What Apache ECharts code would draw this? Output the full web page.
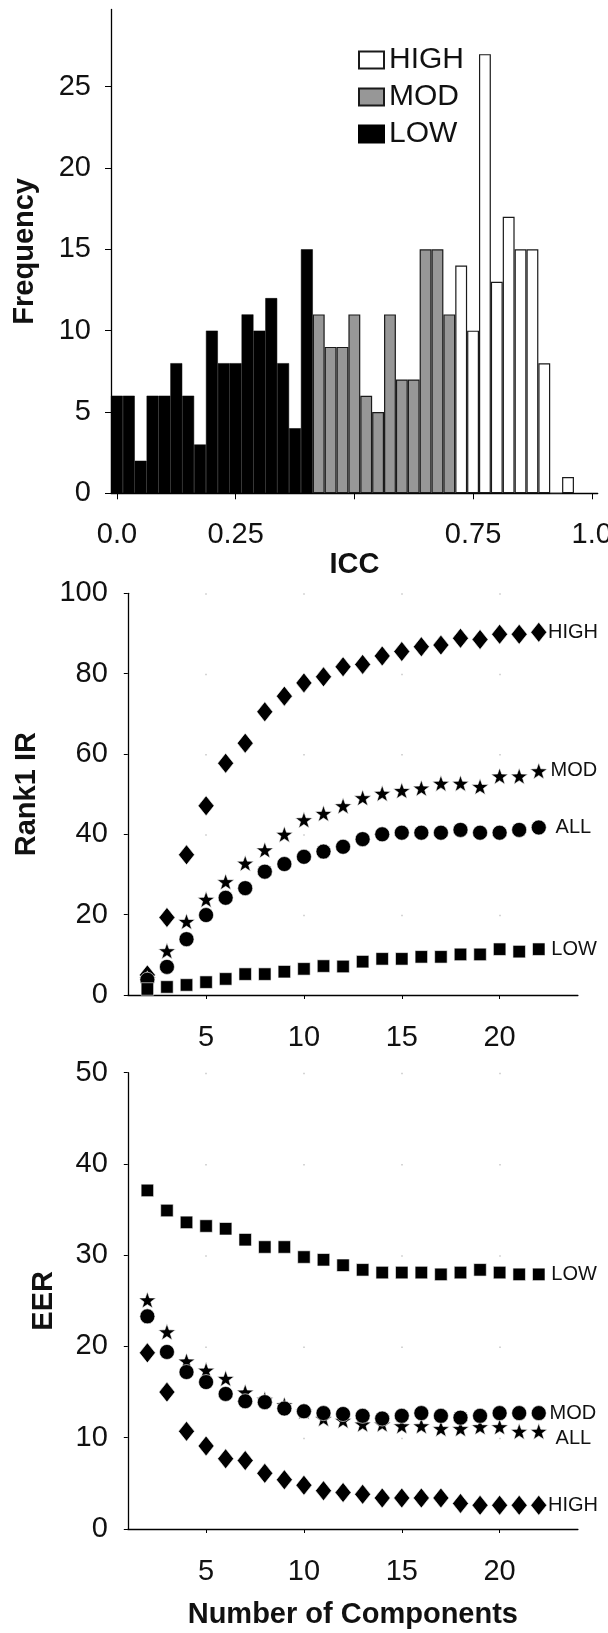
<!DOCTYPE html>
<html>
<head>
<meta charset="utf-8">
<script src="https://cdn.jsdelivr.net/npm/echarts@6/dist/echarts.min.js"></script>
<style>
  html, body { margin: 0; padding: 0; background: #ffffff; }
  #chart { width: 608px; height: 1633px; }
</style>
</head>
<body>
<div id="chart"></div>
<script>
// ---- Histogram of ICC values (bins of width 0.025, labelled by bin centre) ----
const iccBins = [
  0.000, 0.025, 0.050, 0.075, 0.100, 0.125, 0.150, 0.175, 0.200, 0.225,
  0.250, 0.275, 0.300, 0.325, 0.350, 0.375, 0.400, 0.425, 0.450, 0.475,
  0.500, 0.525, 0.550, 0.575, 0.600, 0.625, 0.650, 0.675, 0.700, 0.725,
  0.750, 0.775, 0.800, 0.825, 0.850, 0.875, 0.900, 0.925, 0.950, 0.975,
  1.000
];
const iccTickLabels = ['0.0', '0.25', '', '0.75', '1.0'];
const freqTicks = [0, 5, 10, 15, 20, 25];

// frequency per bin for each reliability group, starting at the given bin centre
const lowStart = 0.000;
const lowFreq  = [6, 6, 2, 6, 6, 8, 6, 3, 10, 8, 8, 11, 10, 12, 8, 4, 15];
const modStart = 0.425;
const modFreq  = [11, 9, 9, 11, 6, 5, 11, 7, 7, 15, 15, 11];
const highStart = 0.725;
const highFreq = [14, 10, 27, 13, 17, 15, 15, 8, 0, 1];

// ---- Rank-1 identification rate vs number of components ----
const components = [2, 3, 4, 5, 6, 7, 8, 9, 10, 11, 12, 13, 14, 15, 16, 17, 18, 19, 20, 21, 22];
const compTicks = [5, 10, 15, 20];
const irHigh = [5.0, 19.3, 34.9, 47.1, 57.7, 62.7, 70.5, 74.4, 77.7, 79.2, 81.7, 82.3, 84.4, 85.5, 86.7, 87.1, 88.8, 88.5, 89.8, 89.8, 90.3];
const irMod  = [4.0, 11.0, 18.3, 23.8, 28.2, 32.8, 36.1, 40.0, 43.6, 45.2, 47.1, 49.1, 50.2, 50.9, 51.5, 52.7, 52.7, 51.9, 54.5, 54.5, 55.8];
const irAll  = [3.8, 7.0, 13.9, 19.9, 24.2, 26.6, 30.7, 32.6, 34.4, 35.7, 36.9, 38.8, 40.0, 40.4, 40.4, 40.4, 41.1, 40.4, 40.4, 41.1, 41.7];
const irLow  = [1.5, 2.0, 2.5, 3.2, 4.0, 5.2, 5.2, 5.8, 6.5, 7.2, 7.1, 8.3, 9.0, 9.0, 9.5, 9.5, 10.1, 10.1, 11.4, 10.8, 11.4];

// ---- Equal error rate vs number of components ----
const eerLow  = [37.1, 34.9, 33.6, 33.2, 32.9, 31.7, 30.9, 30.9, 29.8, 29.5, 28.9, 28.4, 28.1, 28.1, 28.1, 27.9, 28.1, 28.4, 28.1, 27.9, 27.9];
const eerMod  = [23.3, 19.4, 17.2, 16.1, 14.8, 14.0, 13.9, 13.2, 12.9, 12.7, 12.6, 12.4, 12.1, 12.4, 12.7, 12.4, 12.2, 12.4, 12.7, 12.7, 12.7];
const eerAll  = [25.1, 21.6, 18.4, 17.4, 16.5, 15.0, 14.2, 13.6, 12.9, 12.1, 11.9, 11.5, 11.5, 11.3, 11.3, 11.0, 11.0, 11.2, 11.2, 10.7, 10.7];
const eerHigh = [19.3, 15.0, 10.7, 9.1, 7.7, 7.5, 6.1, 5.4, 4.8, 4.2, 4.0, 3.8, 3.4, 3.4, 3.4, 3.4, 2.8, 2.6, 2.6, 2.6, 2.6];

const FONT = '"Liberation Sans", Arial, sans-serif';
const INK = '#111111';
const TICK_FONT = 29, TITLE_FONT = 29, TAG_FONT = 20;
const STAR = 'path://M0,-10L2.35,-3.24L9.51,-3.09L3.8,1.24L5.88,8.09L0,4.2L-5.88,8.09L-3.8,1.24L-9.51,-3.09L-2.35,-3.24Z';

// place a group's frequencies on the full bin axis
function binSeriesData(start, freq) {
  const first = iccBins.findIndex(b => Math.abs(b - start) < 1e-9);
  return iccBins.map((b, i) => {
    const k = i - first;
    return (k >= 0 && k < freq.length) ? freq[k] : null;
  });
}

const axisLineStyle = { color: '#000', width: 1.3 };
const titleStyle = { fontSize: TITLE_FONT, fontWeight: 'bold', color: INK, fontFamily: FONT };
const tickText = { fontSize: TICK_FONT, color: INK, fontFamily: FONT };

function compXAxis(gridIndex, gapDots) {
  return {
    type: 'value', gridIndex, min: 1, max: 24,
    axisLine: { show: true, onZero: false, lineStyle: axisLineStyle },
    axisTick: { show: true, length: 4, customValues: compTicks, lineStyle: { color: '#000' } },
    axisLabel: Object.assign({ customValues: compTicks, margin: 28 }, tickText),
    splitLine: { show: true, lineStyle: { color: '#c8c8c8', width: 1.5, type: gapDots } }
  };
}

function valueYAxis(gridIndex, max, interval, name, nameGap) {
  return {
    type: 'value', gridIndex, min: 0, max, interval,
    name, nameLocation: 'middle', nameGap, nameRotate: 90,
    nameTextStyle: titleStyle,
    axisLine: { show: true, lineStyle: axisLineStyle },
    axisTick: { show: true, length: 4, lineStyle: { color: '#000' } },
    axisLabel: Object.assign({ margin: 20 }, tickText),
    splitLine: { show: false }
  };
}

// scatter series with a group label written right of its last point
function groupSeries(xi, yi, name, values, symbol, size, z, label) {
  const last = values.length - 1;
  return {
    type: 'scatter', name, xAxisIndex: xi, yAxisIndex: yi, z,
    symbol, symbolSize: size, symbolKeepAspect: symbol.startsWith('path'),
    itemStyle: { color: '#000', borderColor: '#fff', borderWidth: 0.6, opacity: 1 },
    data: components.map((c, i) => [c, values[i]]),
    label: {
      show: true, position: 'right', distance: label.distance, offset: label.offset || [0, 0],
      fontSize: TAG_FONT, color: INK, fontFamily: FONT,
      formatter: p => (p.dataIndex === last ? label.text : '')
    },
    emphasis: { disabled: true }
  };
}

const DIAMOND = [16, 20], CIRCLE = 15, SQUARE = 12.5, STARSIZE = 17;

const option = {
  backgroundColor: '#ffffff',
  animation: false,
  textStyle: { fontFamily: FONT },
  legend: {
    orient: 'vertical', left: 353, top: 40, itemGap: 7,
    itemWidth: 25, itemHeight: 17, icon: 'rect',
    data: ['HIGH', 'MOD', 'LOW'],
    textStyle: { fontSize: 30, color: INK, fontFamily: FONT, lineHeight: 30 }
  },
  grid: [
    { left: 111, right: 10.3, top: 9.4, bottom: 1139.7, outerBoundsMode: 'none' },
    { left: 127.8, right: 30.1, top: 593.3, bottom: 638, outerBoundsMode: 'none' },
    { left: 127.8, right: 30.1, top: 1072.7, bottom: 104, outerBoundsMode: 'none' }
  ],
  xAxis: [
    {
      type: 'category', gridIndex: 0, data: iccBins, boundaryGap: true,
      name: 'ICC', nameLocation: 'middle', nameGap: 54,
      nameTextStyle: titleStyle,
      axisLine: { show: true, lineStyle: axisLineStyle },
      axisTick: { show: true, alignWithLabel: true, interval: 9, length: 6, lineStyle: { color: '#000' } },
      axisLabel: Object.assign({
        interval: 9, margin: 27,
        formatter: (v, i) => iccTickLabels[i / 10] || ''
      }, tickText),
      splitLine: { show: false }
    },
    compXAxis(1, [1.5, 78.84]),
    Object.assign(compXAxis(2, [1.5, 89.76]), {
      name: 'Number of Components', nameLocation: 'middle', nameGap: 71.5,
      nameTextStyle: titleStyle
    })
  ],
  yAxis: [
    {
      type: 'value', gridIndex: 0, min: 0, max: 29.75,
      name: 'Frequency', nameLocation: 'middle', nameGap: 71.5, nameRotate: 90,
      nameTextStyle: titleStyle,
      axisLine: { show: true, lineStyle: axisLineStyle },
      axisTick: { show: true, length: 6, customValues: freqTicks, lineStyle: { color: '#000' } },
      axisLabel: Object.assign({ customValues: freqTicks, margin: 20 }, tickText),
      splitLine: { show: false }
    },
    valueYAxis(1, 100, 20, 'Rank1 IR', 86),
    valueYAxis(2, 50, 10, 'EER', 69)
  ],
  series: [
    {
      type: 'bar', name: 'LOW', xAxisIndex: 0, yAxisIndex: 0,
      barWidth: '100%', barGap: '-100%',
      itemStyle: { color: '#000000', borderColor: '#000000', borderWidth: 0.5 },
      data: binSeriesData(lowStart, lowFreq)
    },
    {
      type: 'bar', name: 'MOD', xAxisIndex: 0, yAxisIndex: 0,
      barWidth: '100%', barGap: '-100%',
      itemStyle: { color: '#979797', borderColor: '#1a1a1a', borderWidth: 1.2 },
      data: binSeriesData(modStart, modFreq)
    },
    {
      type: 'bar', name: 'HIGH', xAxisIndex: 0, yAxisIndex: 0,
      barWidth: '100%', barGap: '-100%',
      itemStyle: { color: '#ffffff', borderColor: '#1a1a1a', borderWidth: 1.2 },
      data: binSeriesData(highStart, highFreq)
    },

    groupSeries(1, 1, 'HIGH IR', irHigh, 'diamond', DIAMOND, 2, { text: 'HIGH', distance: 1 }),
    groupSeries(1, 1, 'MOD IR', irMod, STAR, STARSIZE, 3, { text: 'MOD', distance: 3 }),
    groupSeries(1, 1, 'ALL IR', irAll, 'circle', CIRCLE, 4, { text: 'ALL', distance: 9 }),
    groupSeries(1, 1, 'LOW IR', irLow, 'rect', SQUARE, 5, { text: 'LOW', distance: 6 }),

    groupSeries(2, 2, 'HIGH EER', eerHigh, 'diamond', DIAMOND, 2, { text: 'HIGH', distance: 1 }),
    groupSeries(2, 2, 'ALL EER', eerAll, STAR, STARSIZE, 3, { text: 'ALL', distance: 8, offset: [0, 7] }),
    groupSeries(2, 2, 'MOD EER', eerMod, 'circle', CIRCLE, 4, { text: 'MOD', distance: 3 }),
    groupSeries(2, 2, 'LOW EER', eerLow, 'rect', SQUARE, 5, { text: 'LOW', distance: 6 })
  ]
};

const chart = echarts.init(document.getElementById('chart'), null, { renderer: 'canvas' });
chart.setOption(option);
</script>
</body>
</html>
